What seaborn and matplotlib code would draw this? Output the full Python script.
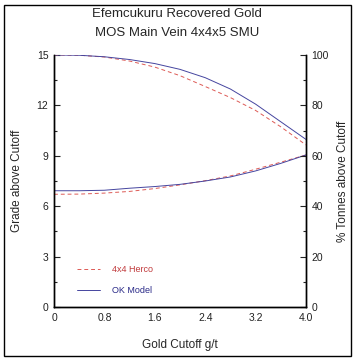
import pandas as pd
import matplotlib
matplotlib.use('Agg')
import matplotlib.pyplot as plt
import seaborn as sns
from matplotlib.patches import Rectangle
from matplotlib.ticker import MultipleLocator

# Data
cutoff = [0.0, 0.4, 0.8, 1.2, 1.6, 2.0, 2.4, 2.8, 3.2, 3.6, 4.0]
ok_tonnes = [100.0, 99.9, 99.3, 98.2, 96.6, 94.3, 91.0, 86.5, 80.5, 73.5, 66.5]
herco_tonnes = [100.0, 99.9, 99.2, 97.6, 95.2, 91.8, 87.5, 83.1, 78.0, 71.5, 64.3]
ok_grade = [6.92, 6.92, 6.95, 7.07, 7.17, 7.30, 7.50, 7.74, 8.10, 8.55, 9.05]
herco_grade = [6.71, 6.72, 6.78, 6.88, 7.05, 7.27, 7.52, 7.80, 8.20, 8.62, 9.05]

series_names = ['4x4 Herco', 'OK Model']
colors = {'4x4 Herco': '#dd5a55', 'OK Model': '#45459f'}
text_colors = {'4x4 Herco': '#c0393b', 'OK Model': '#2a2a88'}
dashes = {'4x4 Herco': (4, 3), 'OK Model': ''}

sns.set_style('white')
plt.rcParams['font.family'] = ['Liberation Sans', 'DejaVu Sans']


def main():
    grade_df = pd.DataFrame({
        'cutoff': cutoff * 2,
        'value': herco_grade + ok_grade,
        'model': ['4x4 Herco'] * len(cutoff) + ['OK Model'] * len(cutoff),
    })
    tonnes_df = pd.DataFrame({
        'cutoff': cutoff * 2,
        'value': herco_tonnes + ok_tonnes,
        'model': ['4x4 Herco'] * len(cutoff) + ['OK Model'] * len(cutoff),
    })

    fig = plt.figure(figsize=(3.54, 3.61), dpi=100)
    ax = fig.add_axes([54 / 354, 1 - 307 / 361, 252 / 354, 252 / 361])
    ax2 = ax.twinx()

    sns.lineplot(data=grade_df, x='cutoff', y='value', hue='model', style='model',
                 palette=colors, dashes=dashes, linewidth=0.7, ax=ax, legend=False)
    sns.lineplot(data=tonnes_df, x='cutoff', y='value', hue='model', style='model',
                 palette=colors, dashes=dashes, linewidth=0.7, ax=ax2, legend=False)

    ax.set_xlim(0, 4.0)
    ax.set_ylim(0, 15)
    ax2.set_ylim(0, 100)

    ax.xaxis.set_major_locator(MultipleLocator(0.8))
    ax.xaxis.set_minor_locator(MultipleLocator(0.4))
    ax.yaxis.set_major_locator(MultipleLocator(3))
    ax.yaxis.set_minor_locator(MultipleLocator(1.5))
    ax2.yaxis.set_major_locator(MultipleLocator(20))
    ax2.yaxis.set_minor_locator(MultipleLocator(10))
    ax.set_xticks([0, 0.8, 1.6, 2.4, 3.2, 4.0])
    ax.set_xticklabels(['0', '0.8', '1.6', '2.4', '3.2', '4.0'])

    for a in (ax, ax2):
        a.tick_params(which='both', direction='in', labelsize=7.5, colors='#222222', pad=4)
        a.tick_params(which='major', length=4, width=0.8)
        a.tick_params(which='minor', length=2.5, width=0.8)
        a.spines['top'].set_visible(False)
        for s in ('left', 'right', 'bottom'):
            a.spines[s].set_color('black')
            a.spines[s].set_linewidth(1.0)
    ax.tick_params(axis='y', which='both', right=False)
    ax2.tick_params(axis='y', which='both', left=False)

    ax.set_xlabel('Gold Cutoff g/t', fontsize=8.5, labelpad=12)
    ax.set_ylabel('Grade above Cutoff', fontsize=8.5, labelpad=10)
    ax2.set_ylabel('% Tonnes above Cutoff', fontsize=8.5, labelpad=6)

    fig.text(0.5, 1 - 14 / 361, 'Efemcukuru Recovered Gold', ha='center', va='center', fontsize=9.5)
    fig.text(0.5, 1 - 33 / 361, 'MOS Main Vein 4x4x5 SMU', ha='center', va='center', fontsize=9.5)

    handles = [plt.Line2D([], [], color=colors[n], linewidth=0.7,
                          linestyle=(0, (4, 3)) if n == '4x4 Herco' else '-') for n in series_names]
    leg = ax2.legend(handles, series_names, loc='lower left', bbox_to_anchor=(0.06, 0.015),
                     frameon=False, fontsize=6.5, handlelength=2.5, handletextpad=1.3, labelspacing=1.3)
    for t, n in zip(leg.get_texts(), series_names):
        t.set_color(text_colors[n])

    fig.patches.append(Rectangle((4 / 354, 5 / 361), 347 / 354, 351 / 361, transform=fig.transFigure,
                                 fill=False, edgecolor='black', linewidth=1.0))

    fig.savefig('out.png', dpi=100)
    plt.close(fig)


if __name__ == '__main__':
    main()
